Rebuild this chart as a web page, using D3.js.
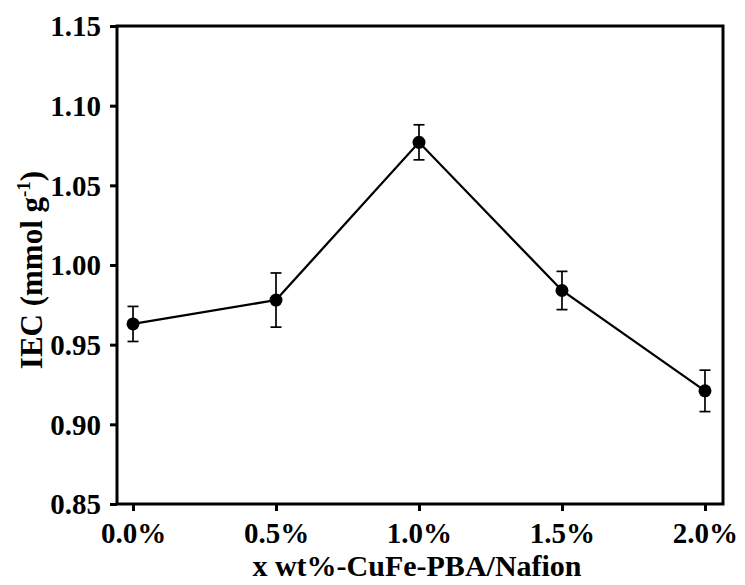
<!DOCTYPE html>
<html>
<head>
<meta charset="utf-8">
<script src="https://cdn.jsdelivr.net/npm/d3@7"></script>
<style>
  html, body { margin: 0; padding: 0; background: #fff; }
  svg { display: block; }
  text { font-family: "Liberation Serif", "Times New Roman", serif; font-weight: bold; fill: #000; }
</style>
</head>
<body>
<svg id="chart" width="745" height="585"></svg>
<script>
// IEC of x wt% CuFe-PBA/Nafion membranes
const loadings = [0.0, 0.5, 1.0, 1.5, 2.0];
const iec      = [0.963, 0.978, 1.077, 0.984, 0.921];
const iecErr   = [0.011, 0.017, 0.011, 0.012, 0.013];
const yTicks   = [0.85, 0.90, 0.95, 1.00, 1.05, 1.10, 1.15];
const xTicks   = [0.0, 0.5, 1.0, 1.5, 2.0];

const svg = d3.select("#chart");
const plot = { left: 117, right: 723, top: 26, bottom: 504 };

const x = d3.scaleLinear().domain([-0.056, 2.063]).range([plot.left, plot.right]);
const y = d3.scaleLinear().domain([0.85, 1.15]).range([plot.bottom, plot.top]);

// axes
const yAxis = d3.axisLeft(y).tickValues(yTicks).tickFormat(d3.format(".2f")).tickSize(7).tickPadding(9);
const xAxis = d3.axisBottom(x).tickValues(xTicks).tickFormat(d => d.toFixed(1) + "%").tickSize(7);

const gy = svg.append("g").attr("transform", `translate(${plot.left},0)`).call(yAxis);
const gx = svg.append("g").attr("transform", `translate(0,${plot.bottom})`).call(xAxis);
[gy, gx].forEach(g => {
  g.select(".domain").remove();
  g.selectAll(".tick line").attr("stroke", "#000").attr("stroke-width", 3);
  g.selectAll(".tick text")
    .style("font-size", "29px")
    .style("font-family", "Liberation Serif, serif")
    .style("font-weight", "bold");
});
gy.selectAll(".tick text").attr("dy", "0.34em");
gx.selectAll(".tick text").attr("y", 39).attr("dy", 0);

// frame
svg.append("rect")
  .attr("x", plot.left).attr("y", plot.top)
  .attr("width", plot.right - plot.left).attr("height", plot.bottom - plot.top)
  .attr("fill", "none").attr("stroke", "#000").attr("stroke-width", 3);

// connecting line
const pts = loadings.map((d, i) => [d, iec[i], iecErr[i]]);
svg.append("path")
  .datum(pts)
  .attr("fill", "none").attr("stroke", "#000").attr("stroke-width", 2.3)
  .attr("d", d3.line().x(d => x(d[0])).y(d => y(d[1])));

// error bars
const cap = 5.5;
const eb = svg.append("g").attr("stroke", "#000").attr("stroke-width", 1.7);
pts.forEach(d => {
  const cx = x(d[0]), y1 = y(d[1] + d[2]), y2 = y(d[1] - d[2]);
  eb.append("line").attr("x1", cx).attr("x2", cx).attr("y1", y1).attr("y2", y2);
  eb.append("line").attr("x1", cx - cap).attr("x2", cx + cap).attr("y1", y1).attr("y2", y1);
  eb.append("line").attr("x1", cx - cap).attr("x2", cx + cap).attr("y1", y2).attr("y2", y2);
});

// markers
svg.append("g").selectAll("circle").data(pts).join("circle")
  .attr("cx", d => x(d[0])).attr("cy", d => y(d[1])).attr("r", 6.5).attr("fill", "#000");

// axis titles
svg.append("text")
  .attr("x", 417).attr("y", 576)
  .attr("text-anchor", "middle").style("font-size", "30px")
  .text("x wt%-CuFe-PBA/Nafion");

const yl = svg.append("text")
  .attr("transform", `translate(42,270) rotate(-90)`)
  .attr("text-anchor", "middle").style("font-size", "31px");
yl.append("tspan").text("IEC (mmol g");
yl.append("tspan").attr("dy", -12).style("font-size", "19px").text("-1");
yl.append("tspan").attr("dy", 12).text(")");
</script>
</body>
</html>
